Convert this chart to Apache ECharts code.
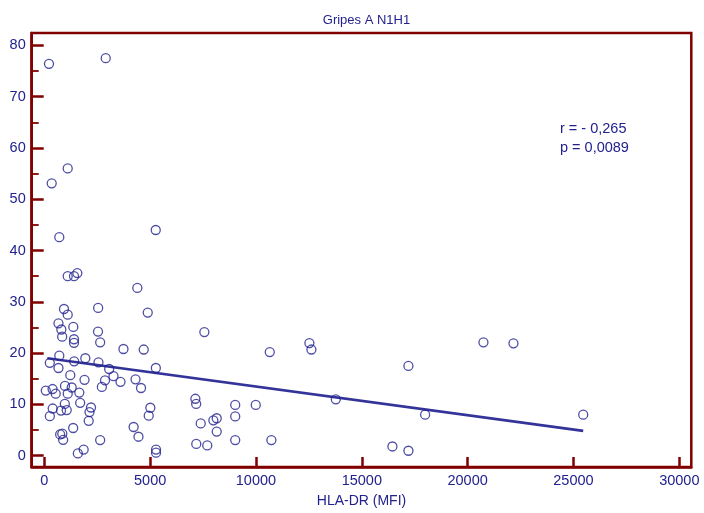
<!DOCTYPE html>
<html>
<head>
<meta charset="utf-8">
<script src="https://cdn.jsdelivr.net/npm/echarts@6/dist/echarts.min.js"></script>
<style>
html,body{margin:0;padding:0;background:#fff;}
#chart{width:704px;height:513px;}
</style>
</head>
<body>
<div id="chart"></div>
<script>
// ---- data ----
var hlaDR = [222, 2902, 1106, 350, 709, 5265, 1106, 1404, 1560, 4395,
  931, 2545, 1106, 4887, 670, 805, 1371, 2538, 7562, 845,
  1404, 1404, 2640, 3740, 4698, 709, 1938, 260, 1410, 2560,
  670, 3065, 5270, 1229, 3270, 1900, 2869, 3600, 4310, 978,
  1295, 2720, 4570, 70, 390, 539, 1106, 1654, 970, 1695,
  397, 790, 1059, 2207, 2136, 262, 2098, 1364, 4220, 750,
  851, 890, 2640, 1860, 1585, 4450, 5010, 4934, 7137, 7175,
  7390, 7987, 8146, 8146, 7180, 7700, 9020, 9020, 9020, 5279,
  5279, 9991, 10652, 12524, 12619, 17203, 13772, 17992, 10728, 16447,
  17203, 20747, 22165, 25460];
var gripeA = [76.4, 77.5, 56.0, 53.1, 42.6, 44.0, 35.0, 35.0, 35.6, 32.7,
  28.6, 28.8, 27.5, 27.9, 25.8, 24.6, 25.1, 24.2, 24.1, 23.2,
  22.7, 22.0, 22.1, 20.8, 20.7, 19.5, 19.0, 18.1, 18.4, 18.2,
  17.1, 16.9, 17.1, 15.7, 15.5, 14.8, 14.7, 14.4, 14.9, 13.6,
  13.3, 13.4, 13.2, 12.7, 13.0, 12.1, 12.1, 12.3, 10.1, 10.3,
  9.2, 8.8, 8.9, 9.4, 8.5, 7.7, 6.8, 5.4, 5.6, 4.15,
  4.3, 3.1, 3.05, 1.2, 0.45, 3.7, 9.35, 7.8, 11.1, 10.1,
  6.3, 6.9, 7.3, 4.7, 2.3, 2.0, 9.9, 7.65, 3.05, 1.2,
  0.6, 9.9, 20.2, 21.95, 20.7, 17.5, 11.0, 8.0, 3.05, 1.8,
  0.97, 22.1, 21.9, 8.0];
var fitX = [142, 25460];
var fitIntercept = 19.08;
var fitSlope = -0.000559;
var xTicks = [0, 5000, 10000, 15000, 20000, 25000, 30000];
var yTicks = [0, 10, 20, 30, 40, 50, 60, 70, 80];
var yMinorTicks = [5, 15, 25, 35, 45, 55, 65, 75];
var titleText = 'Gripes A N1H1';
var xName = 'HLA-DR (MFI)';
var statLines = ['r = - 0,265', 'p = 0,0089'];

// ---- chart ----
var NAVY = '#22228f';
var FRAME = '#800000';
var FONT = '"Liberation Sans", Arial, sans-serif';

var points = hlaDR.map(function (x, i) { return [x, gripeA[i]]; });
var fitLine = fitX.map(function (x) { return [x, fitIntercept + fitSlope * x]; });

var chart = echarts.init(document.getElementById('chart'), null, {renderer: 'canvas'});
var grid = {left: 31.7, right: 12.7, top: 33, bottom: 45.7, show: true,
  borderColor: FRAME, borderWidth: 2.5, backgroundColor: 'transparent'};
var xMin = -595, xMax = 30567, yMin = -2.2, yMax = 82.4;
var plain = function (v) { return String(v); };

chart.setOption({
  animation: false,
  backgroundColor: '#fff',
  title: {
    text: titleText, left: 361.5, top: 9, textAlign: 'center',
    textStyle: {color: NAVY, fontSize: 13, fontWeight: 'normal', fontFamily: FONT}
  },
  grid: grid,
  xAxis: [{
    type: 'value', min: xMin, max: xMax, position: 'bottom',
    axisLine: {show: true, onZero: false, lineStyle: {color: FRAME, width: 2.5}},
    axisTick: {show: true, inside: true, length: 10, customValues: xTicks,
      lineStyle: {color: FRAME, width: 2.5}},
    axisLabel: {show: true, customValues: xTicks, margin: 6, color: NAVY,
      fontSize: 14.5, fontFamily: FONT, formatter: plain},
    splitLine: {show: false},
    name: xName, nameLocation: 'middle', nameGap: 27,
    nameTextStyle: {color: NAVY, fontSize: 14, fontFamily: FONT}
  }],
  yAxis: [{
    type: 'value', min: yMin, max: yMax, position: 'left',
    axisLine: {show: true, onZero: false, lineStyle: {color: FRAME, width: 2.5}},
    axisTick: {show: true, inside: true, length: 12, customValues: yTicks,
      lineStyle: {color: FRAME, width: 2.5}},
    axisLabel: {show: true, customValues: yTicks, margin: 6, color: NAVY,
      fontSize: 14.5, fontFamily: FONT, formatter: plain},
    splitLine: {show: false}
  }, {
    type: 'value', min: yMin, max: yMax, position: 'left', offset: 0,
    axisLine: {show: false, onZero: false},
    axisTick: {show: true, inside: true, length: 7, customValues: yMinorTicks,
      lineStyle: {color: FRAME, width: 1.8}},
    axisLabel: {show: false},
    splitLine: {show: false}
  }],
  graphic: [{
    type: 'text', left: 560, top: 119,
    style: {text: statLines.join('\n'), fill: NAVY, font: '14.5px ' + FONT, lineHeight: 19}
  }],
  series: [{
    type: 'scatter', data: points, symbol: 'circle', symbolSize: 9,
    itemStyle: {color: 'rgba(0,0,0,0)', borderColor: NAVY, borderWidth: 1.3},
    silent: true, z: 3
  }, {
    type: 'line', data: fitLine, showSymbol: false, symbol: 'none',
    lineStyle: {color: '#33339a', width: 2.6}, silent: true, z: 2
  }]
});
</script>
</body>
</html>
